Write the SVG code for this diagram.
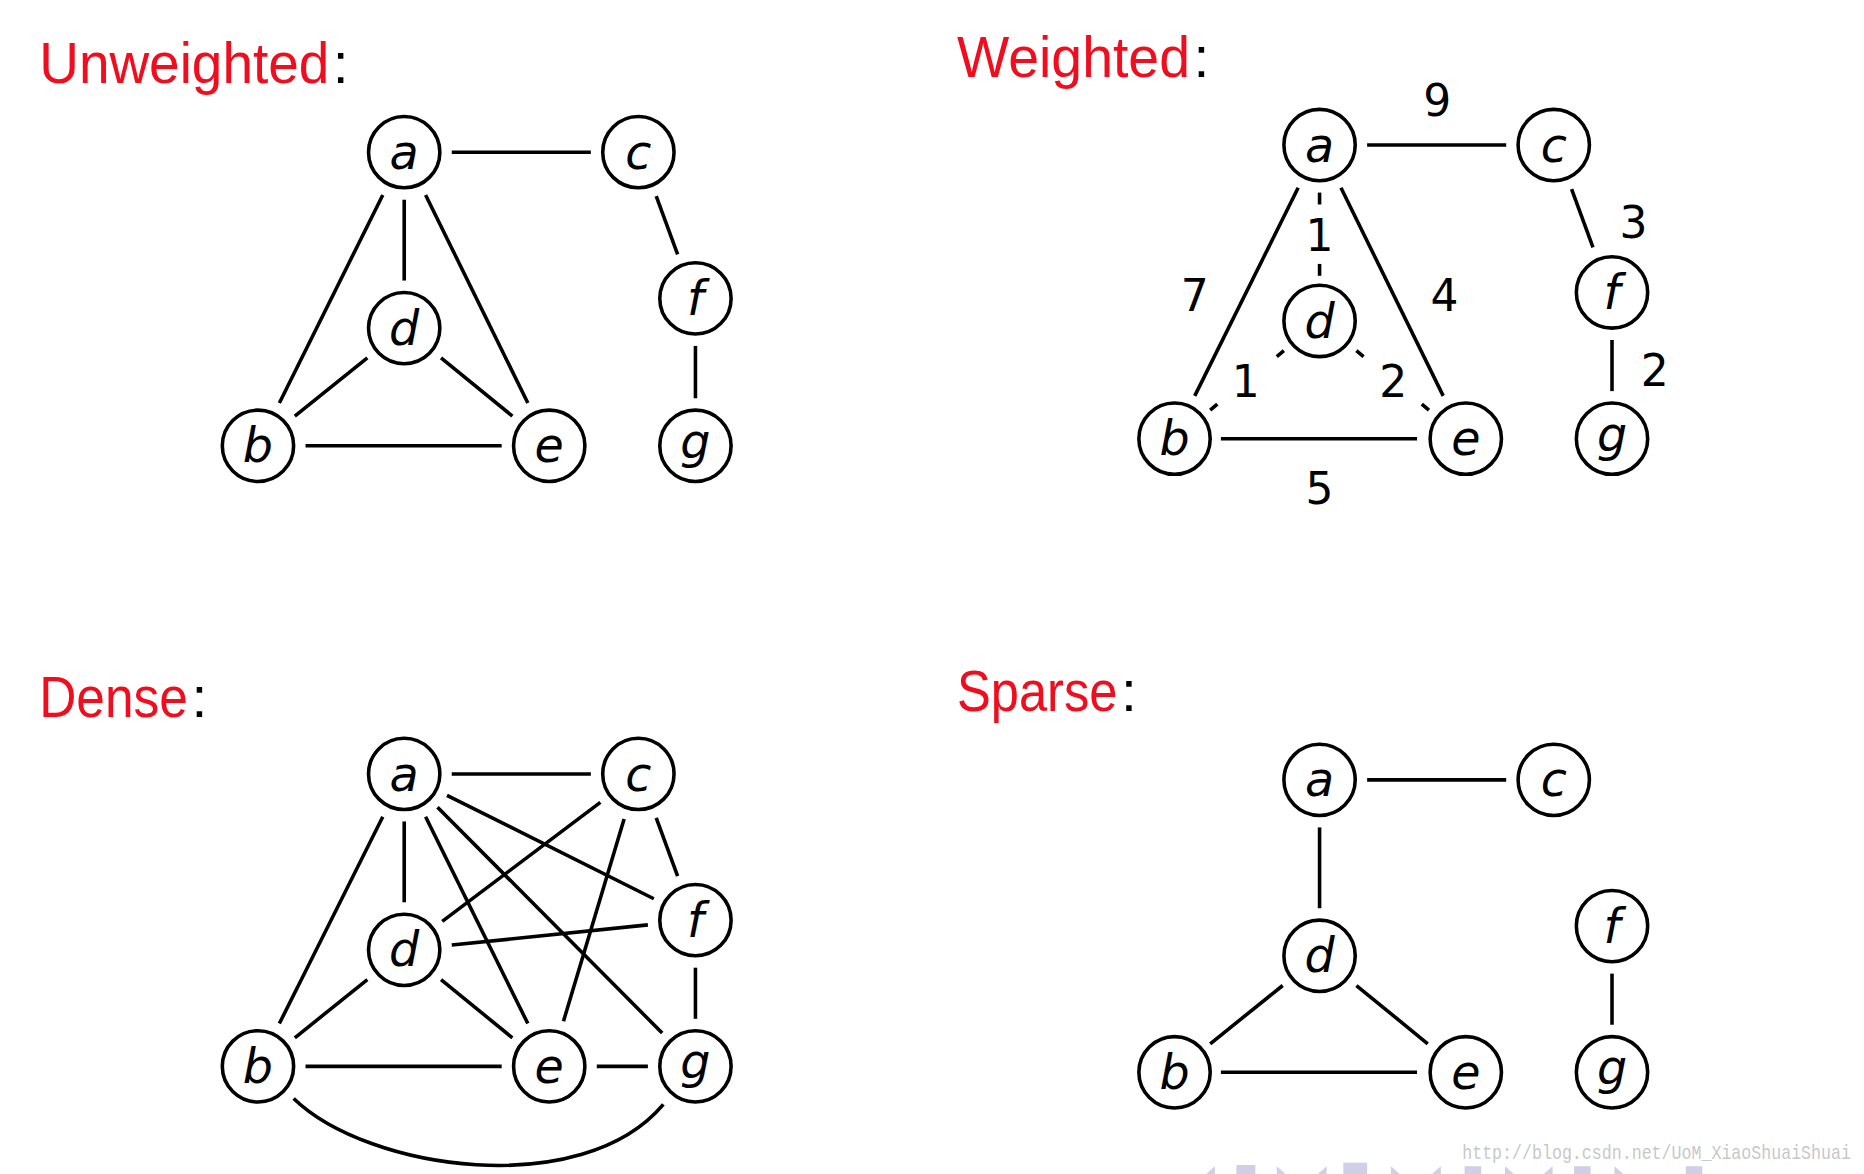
<svg xmlns="http://www.w3.org/2000/svg" width="1864" height="1174" viewBox="0 0 1864 1174">
<style>
.t{font-family:"Liberation Sans",Arial,sans-serif;font-size:48px;fill:#f00d1e}
.c{fill:#000}
circle{fill:#fff;stroke:#000;stroke-width:3}
.n{font-family:"DejaVu Sans","Liberation Sans",sans-serif;font-style:italic;font-size:40px;text-anchor:middle;fill:#000}
.w{font-family:"DejaVu Sans","Liberation Sans",sans-serif;font-size:37px;text-anchor:middle;fill:#000}
#edges line,#edges path{stroke:#000;stroke-width:3;fill:none}
.wm{font-family:"Liberation Mono",monospace;font-size:17px;fill:#c8c8c8}
.nav{fill:#cfcfe8}
</style>
<rect width="1864" height="1174" fill="#fff"/>
<g transform="scale(1.1888)">
<g id="titles">
<text x="33" y="70"><tspan class="t" textLength="244" lengthAdjust="spacingAndGlyphs">Unweighted</tspan><tspan class="t c" dx="3">:</tspan></text>
<text x="805" y="65"><tspan class="t" textLength="196" lengthAdjust="spacingAndGlyphs">Weighted</tspan><tspan class="t c" dx="3">:</tspan></text>
<text x="33" y="603"><tspan class="t" textLength="125" lengthAdjust="spacingAndGlyphs">Dense</tspan><tspan class="t c" dx="3">:</tspan></text>
<text x="805" y="598"><tspan class="t" textLength="135" lengthAdjust="spacingAndGlyphs">Sparse</tspan><tspan class="t c" dx="3">:</tspan></text>
</g>
<g id="edges">
<line x1="380" y1="128" x2="497" y2="128"/>
<line x1="340" y1="168" x2="340" y2="236"/>
<line x1="322" y1="164" x2="235" y2="339"/>
<line x1="358" y1="164" x2="444" y2="339"/>
<line x1="309" y1="301" x2="248" y2="350"/>
<line x1="371" y1="301" x2="431" y2="350"/>
<line x1="257" y1="375" x2="422" y2="375"/>
<line x1="552" y1="165" x2="570" y2="214"/>
<line x1="585" y1="291" x2="585" y2="335"/>
<line x1="1150" y1="122" x2="1267" y2="122"/>
<line x1="1110" y1="162" x2="1110" y2="172"/>
<line x1="1110" y1="222" x2="1110" y2="232"/>
<line x1="1092" y1="158" x2="1005" y2="333"/>
<line x1="1128" y1="158" x2="1214" y2="333"/>
<line x1="1018" y1="345" x2="1024" y2="340"/>
<line x1="1074" y1="300" x2="1080" y2="295"/>
<line x1="1141" y1="295" x2="1147" y2="300"/>
<line x1="1196" y1="340" x2="1202" y2="345"/>
<line x1="1027" y1="369" x2="1192" y2="369"/>
<line x1="1322" y1="159" x2="1340" y2="208"/>
<line x1="1356" y1="286" x2="1356" y2="329"/>
<line x1="380" y1="651" x2="497" y2="651"/>
<line x1="340" y1="691" x2="340" y2="759"/>
<line x1="322" y1="687" x2="235" y2="861"/>
<line x1="358" y1="687" x2="444" y2="861"/>
<line x1="376" y1="669" x2="550" y2="756"/>
<line x1="368" y1="679" x2="557" y2="869"/>
<line x1="372" y1="775" x2="505" y2="675"/>
<line x1="380" y1="795" x2="545" y2="778"/>
<line x1="525" y1="689" x2="474" y2="859"/>
<line x1="552" y1="688" x2="570" y2="737"/>
<line x1="585" y1="814" x2="585" y2="857"/>
<line x1="309" y1="824" x2="248" y2="873"/>
<line x1="371" y1="824" x2="431" y2="873"/>
<line x1="257" y1="897" x2="422" y2="897"/>
<line x1="502" y1="897" x2="545" y2="897"/>
<path d="M247,924 C310,985 490,1010 558,929"/>
<line x1="1150" y1="656" x2="1267" y2="656"/>
<line x1="1110" y1="696" x2="1110" y2="764"/>
<line x1="1079" y1="829" x2="1018" y2="878"/>
<line x1="1141" y1="829" x2="1201" y2="878"/>
<line x1="1027" y1="902" x2="1192" y2="902"/>
<line x1="1356" y1="819" x2="1356" y2="862"/>
</g>
<g id="weights">
<text class="w" x="1209" y="98">9</text>
<text class="w" x="1374" y="200">3</text>
<text class="w" x="1005" y="262">7</text>
<text class="w" x="1215" y="262">4</text>
<text class="w" x="1110" y="211">1</text>
<text class="w" x="1048" y="334">1</text>
<text class="w" x="1172" y="334">2</text>
<text class="w" x="1392" y="325">2</text>
<text class="w" x="1110" y="424">5</text>
</g>
<g id="unweighted-nodes">
<g id="u-a"><circle cx="340" cy="128" r="30"/><text class="n" x="340" y="142">a</text></g>
<g id="u-c"><circle cx="537" cy="128" r="30"/><text class="n" x="537" y="142">c</text></g>
<g id="u-d"><circle cx="340" cy="276" r="30"/><text class="n" x="340" y="290">d</text></g>
<g id="u-f"><circle cx="585" cy="251" r="30"/><text class="n" x="585" y="265">f</text></g>
<g id="u-b"><circle cx="217" cy="375" r="30"/><text class="n" x="217" y="389">b</text></g>
<g id="u-e"><circle cx="462" cy="375" r="30"/><text class="n" x="462" y="389">e</text></g>
<g id="u-g"><circle cx="585" cy="375" r="30"/><text class="n" x="585" y="385">g</text></g>
</g>
<g id="weighted-nodes">
<g id="w-a"><circle cx="1110" cy="122" r="30"/><text class="n" x="1110" y="136">a</text></g>
<g id="w-c"><circle cx="1307" cy="122" r="30"/><text class="n" x="1307" y="136">c</text></g>
<g id="w-d"><circle cx="1110" cy="270" r="30"/><text class="n" x="1110" y="284">d</text></g>
<g id="w-f"><circle cx="1356" cy="246" r="30"/><text class="n" x="1356" y="260">f</text></g>
<g id="w-b"><circle cx="988" cy="369" r="30"/><text class="n" x="988" y="383">b</text></g>
<g id="w-e"><circle cx="1233" cy="369" r="30"/><text class="n" x="1233" y="383">e</text></g>
<g id="w-g"><circle cx="1356" cy="369" r="30"/><text class="n" x="1356" y="379">g</text></g>
</g>
<g id="dense-nodes">
<g id="d-a"><circle cx="340" cy="651" r="30"/><text class="n" x="340" y="665">a</text></g>
<g id="d-c"><circle cx="537" cy="651" r="30"/><text class="n" x="537" y="665">c</text></g>
<g id="d-d"><circle cx="340" cy="799" r="30"/><text class="n" x="340" y="813">d</text></g>
<g id="d-f"><circle cx="585" cy="774" r="30"/><text class="n" x="585" y="788">f</text></g>
<g id="d-b"><circle cx="217" cy="897" r="30"/><text class="n" x="217" y="911">b</text></g>
<g id="d-e"><circle cx="462" cy="897" r="30"/><text class="n" x="462" y="911">e</text></g>
<g id="d-g"><circle cx="585" cy="897" r="30"/><text class="n" x="585" y="907">g</text></g>
</g>
<g id="sparse-nodes">
<g id="s-a"><circle cx="1110" cy="656" r="30"/><text class="n" x="1110" y="670">a</text></g>
<g id="s-c"><circle cx="1307" cy="656" r="30"/><text class="n" x="1307" y="670">c</text></g>
<g id="s-d"><circle cx="1110" cy="804" r="30"/><text class="n" x="1110" y="818">d</text></g>
<g id="s-f"><circle cx="1356" cy="779" r="30"/><text class="n" x="1356" y="793">f</text></g>
<g id="s-b"><circle cx="988" cy="902" r="30"/><text class="n" x="988" y="916">b</text></g>
<g id="s-e"><circle cx="1233" cy="902" r="30"/><text class="n" x="1233" y="916">e</text></g>
<g id="s-g"><circle cx="1356" cy="902" r="30"/><text class="n" x="1356" y="912">g</text></g>
</g>
<g id="footer">
<text class="wm" x="1230" y="975" textLength="327" lengthAdjust="spacingAndGlyphs">http://blog.csdn.net/UoM_XiaoShuaiShuai</text>
<polygon class="nav" points="1022,981 1014,988 1022,988"/>
<rect class="nav" x="1040" y="980" width="16" height="8"/>
<polygon class="nav" points="1074,981 1082,988 1074,988"/>
<polygon class="nav" points="1116,981 1108,988 1116,988"/>
<rect class="nav" x="1130" y="978" width="20" height="10"/>
<polygon class="nav" points="1170,981 1178,988 1170,988"/>
<polygon class="nav" points="1212,981 1204,988 1212,988"/>
<rect class="nav" x="1232" y="981" width="14" height="7"/>
<polygon class="nav" points="1266,981 1274,988 1266,988"/>
<polygon class="nav" points="1306,981 1298,988 1306,988"/>
<rect class="nav" x="1324" y="981" width="14" height="7"/>
<polygon class="nav" points="1358,981 1366,988 1358,988"/>
<rect class="nav" x="1418" y="981" width="14" height="7"/>
</g>
</g>
</svg>
